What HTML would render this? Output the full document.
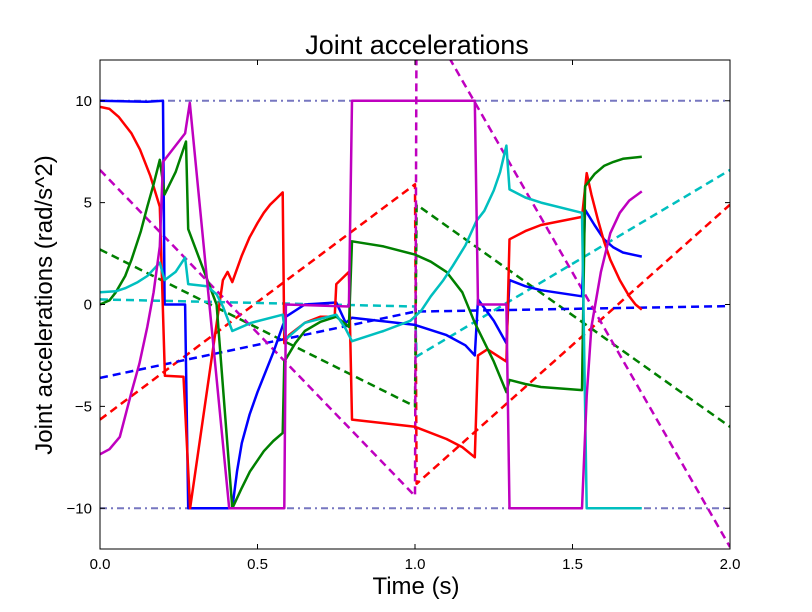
<!DOCTYPE html>
<html><head><meta charset="utf-8"><style>
html,body{margin:0;padding:0;background:#fff;}
svg{display:block;font-family:"Liberation Sans","DejaVu Sans",sans-serif;}
</style></head><body>
<svg id="chart" width="812" height="612" viewBox="0 0 812 612" xmlns="http://www.w3.org/2000/svg">
<rect width="812" height="612" fill="#fff"/>
<defs><clipPath id="clip"><rect x="100" y="60" width="630" height="489"/></clipPath></defs>
<text x="417" y="54" font-size="27" text-anchor="middle">Joint accelerations</text>
<text x="416" y="594" font-size="24" text-anchor="middle">Time (s)</text>
<text transform="translate(52,305) rotate(-90)" font-size="24" text-anchor="middle">Joint accelerations (rad/s^2)</text>
<g id="plot" clip-path="url(#clip)"></g>
<g id="axes"></g>
</svg>
<script>
const xTicks = [0, 0.5, 1.0, 1.5, 2.0];
const xTickLabels = ["0.0", "0.5", "1.0", "1.5", "2.0"];
const yTicks = [-10, -5, 0, 5, 10];
const yTickLabels = ["\u221210", "\u22125", "0", "5", "10"];

const blueSolid = [[0,10],[0.15,9.95],[0.2,10],[0.205,0],[0.27,0],[0.28,-10],[0.42,-10],[0.435,-8.2],[0.45,-6.8],[0.475,-5.4],[0.5,-4.3],[0.55,-2.35],[0.59,-0.6],[0.65,0],[0.75,0.1],[0.78,-0.9],[0.8,-0.65],[1.0,-1.0],[1.1,-1.5],[1.16,-2.0],[1.19,-2.5],[1.2,0.25],[1.25,-0.8],[1.29,-1.9],[1.3,1.2],[1.35,0.9],[1.4,0.7],[1.53,0.4],[1.54,4.65],[1.57,3.9],[1.6,3.2],[1.63,2.8],[1.66,2.55],[1.72,2.35]];
const redSolid = [[0,9.7],[0.03,9.6],[0.06,9.2],[0.1,8.4],[0.127,7.6],[0.16,6.3],[0.19,4.8],[0.206,-3.5],[0.265,-3.55],[0.286,-10],[0.39,1.2],[0.405,1.6],[0.42,1.1],[0.45,2.4],[0.475,3.3],[0.5,4.0],[0.52,4.5],[0.54,4.9],[0.56,5.2],[0.58,5.5],[0.585,-1.9],[0.6,-1.5],[0.65,-0.9],[0.7,-0.6],[0.745,-0.6],[0.75,1.0],[0.79,1.6],[0.8,-5.65],[1.0,-6.0],[1.1,-6.6],[1.15,-7.0],[1.19,-7.5],[1.2,-2.5],[1.23,-2.2],[1.29,-2.8],[1.3,3.2],[1.35,3.6],[1.4,3.9],[1.53,4.3],[1.545,6.45],[1.56,5.4],[1.58,4.2],[1.6,3.1],[1.62,2.2],[1.65,1.2],[1.68,0.4],[1.7,0],[1.72,-0.25]];
const greenSolid = [[0,0],[0.03,0.2],[0.05,0.6],[0.08,1.4],[0.1,2.2],[0.13,3.6],[0.15,4.8],[0.17,5.9],[0.19,7.1],[0.205,5.4],[0.24,6.5],[0.273,8.0],[0.28,3.7],[0.37,0],[0.42,-10],[0.45,-9.0],[0.476,-8.2],[0.52,-7.2],[0.55,-6.7],[0.58,-6.3],[0.585,-2.8],[0.62,-1.9],[0.65,-1.3],[0.7,-0.85],[0.75,-0.6],[0.79,-1.1],[0.8,3.1],[0.9,2.85],[1.0,2.45],[1.05,2.1],[1.1,1.6],[1.15,0.6],[1.19,-0.9],[1.25,-2.8],[1.29,-4.3],[1.3,-3.7],[1.35,-3.9],[1.4,-4.05],[1.53,-4.2],[1.54,5.8],[1.57,6.4],[1.6,6.8],[1.63,7.0],[1.66,7.15],[1.72,7.25]];
const cyanSolid = [[0,0.6],[0.05,0.65],[0.08,0.8],[0.12,1.1],[0.15,1.4],[0.19,2.05],[0.205,1.2],[0.24,1.6],[0.27,2.3],[0.28,1.0],[0.34,0.9],[0.37,0.5],[0.39,-0.1],[0.42,-1.3],[0.48,-0.9],[0.58,-0.5],[0.59,-1.7],[0.65,-0.9],[0.75,-0.5],[0.78,-1.2],[0.8,-1.8],[0.9,-1.3],[0.985,-0.8],[1.02,-0.3],[1.05,0.4],[1.09,1.2],[1.12,1.9],[1.16,2.9],[1.195,4.1],[1.22,4.6],[1.25,5.6],[1.27,6.5],[1.29,7.8],[1.3,5.65],[1.35,5.25],[1.4,5.0],[1.53,4.5],[1.545,-10],[1.72,-10]];
const magentaSolid = [[0,-7.35],[0.03,-7.1],[0.063,-6.5],[0.1,-4.3],[0.125,-2.9],[0.15,-1.1],[0.17,0.6],[0.19,2.85],[0.2,7.0],[0.27,8.4],[0.285,9.9],[0.41,-10],[0.585,-10],[0.59,0],[0.79,-0.1],[0.8,10],[1.19,10],[1.2,0],[1.29,0],[1.3,-10],[1.53,-10],[1.545,-4.5],[1.56,-1.1],[1.59,1.6],[1.62,3.5],[1.65,4.5],[1.68,5.1],[1.72,5.55]];

const redDashed = [[0,-5.65],[1.0,5.9],[1.005,-8.8],[2.0,4.9]];
const greenDashed = [[0,2.7],[1.0,-5.0],[1.005,4.9],[2.0,-6.0]];
const blueDashed = [[0,-3.6],[1.0,-0.35],[2.0,-0.08]];
const cyanDashed = [[0,0.25],[1.0,-0.1],[1.005,-2.55],[2.0,6.6]];
const magentaDashed = [[0,6.6],[1.0,-9.4],[1.005,14.9],[2.0,-11.9]];
const upperLimit = [[0,10],[2.0,10]];
const lowerLimit = [[0,-10],[2.0,-10]];

const X0=100, X1=730, Y0=549, Y1=60, XMIN=0, XMAX=2, YMIN=-12, YMAX=12;
function sx(t){return X0+(t-XMIN)/(XMAX-XMIN)*(X1-X0);}
function sy(v){return Y0-(v-YMIN)/(YMAX-YMIN)*(Y0-Y1);}
const NS="http://www.w3.org/2000/svg";
const plot=document.getElementById('plot');
const axes=document.getElementById('axes');

function drawLine(pts,color,dash,name,w){
  const p=document.createElementNS(NS,'polyline');
  p.setAttribute('points',pts.map(d=>sx(d[0]).toFixed(1)+','+sy(d[1]).toFixed(1)).join(' '));
  p.setAttribute('fill','none');
  p.setAttribute('stroke',color);
  p.setAttribute('stroke-width',w||2.5);
  p.setAttribute('stroke-linejoin','round');
  if(dash) p.setAttribute('stroke-dasharray',dash);
  
  
  plot.appendChild(p);
}
drawLine(upperLimit,'#7777c0','7,4,2,4','upper-limit-line',2);
drawLine(lowerLimit,'#7777c0','7,4,2,4','lower-limit-line',2);
drawLine(redDashed,'#ff0000','8,5','joint1-velocity-dashed');
drawLine(greenDashed,'#008000','8,5','joint2-velocity-dashed');
drawLine(blueDashed,'#0000ff','8,5','joint3-velocity-dashed');
drawLine(cyanDashed,'#00bfbf','8,5','joint4-velocity-dashed');
drawLine(magentaDashed,'#bf00bf','8,5','joint5-velocity-dashed');
drawLine(blueSolid,'#0000ff',null,'joint3-acceleration');
drawLine(redSolid,'#ff0000',null,'joint1-acceleration');
drawLine(greenSolid,'#008000',null,'joint2-acceleration');
drawLine(cyanSolid,'#00bfbf',null,'joint4-acceleration');
drawLine(magentaSolid,'#bf00bf',null,'joint5-acceleration');

const frame=document.createElementNS(NS,'rect');
frame.setAttribute('x',X0);frame.setAttribute('y',Y1);
frame.setAttribute('width',X1-X0);frame.setAttribute('height',Y0-Y1);
frame.setAttribute('fill','none');frame.setAttribute('stroke','#000');frame.setAttribute('stroke-width','1');


axes.appendChild(frame);

function tick(x1,y1,x2,y2){
  const l=document.createElementNS(NS,'line');
  l.setAttribute('x1',x1);l.setAttribute('y1',y1);l.setAttribute('x2',x2);l.setAttribute('y2',y2);
  l.setAttribute('stroke','#000');l.setAttribute('stroke-width','1');
  
  
  axes.appendChild(l);
}
function label(x,y,txt,anchor,name){
  const t=document.createElementNS(NS,'text');
  t.setAttribute('x',x);t.setAttribute('y',y);t.setAttribute('font-size','15');
  t.setAttribute('text-anchor',anchor);t.textContent=txt;
  
  
  axes.appendChild(t);
}
xTicks.forEach((v,i)=>{
  const x=sx(v);
  tick(x,Y0,x,Y0-5);tick(x,Y1,x,Y1+5);
  label(x,Y0+20,xTickLabels[i],'middle','x-tick-label');
});
yTicks.forEach((v,i)=>{
  const y=sy(v);
  tick(X0,y,X0+5,y);tick(X1,y,X1-5,y);
  label(X0-8,y+5,yTickLabels[i],'end','y-tick-label');
});
</script>
</body></html>
